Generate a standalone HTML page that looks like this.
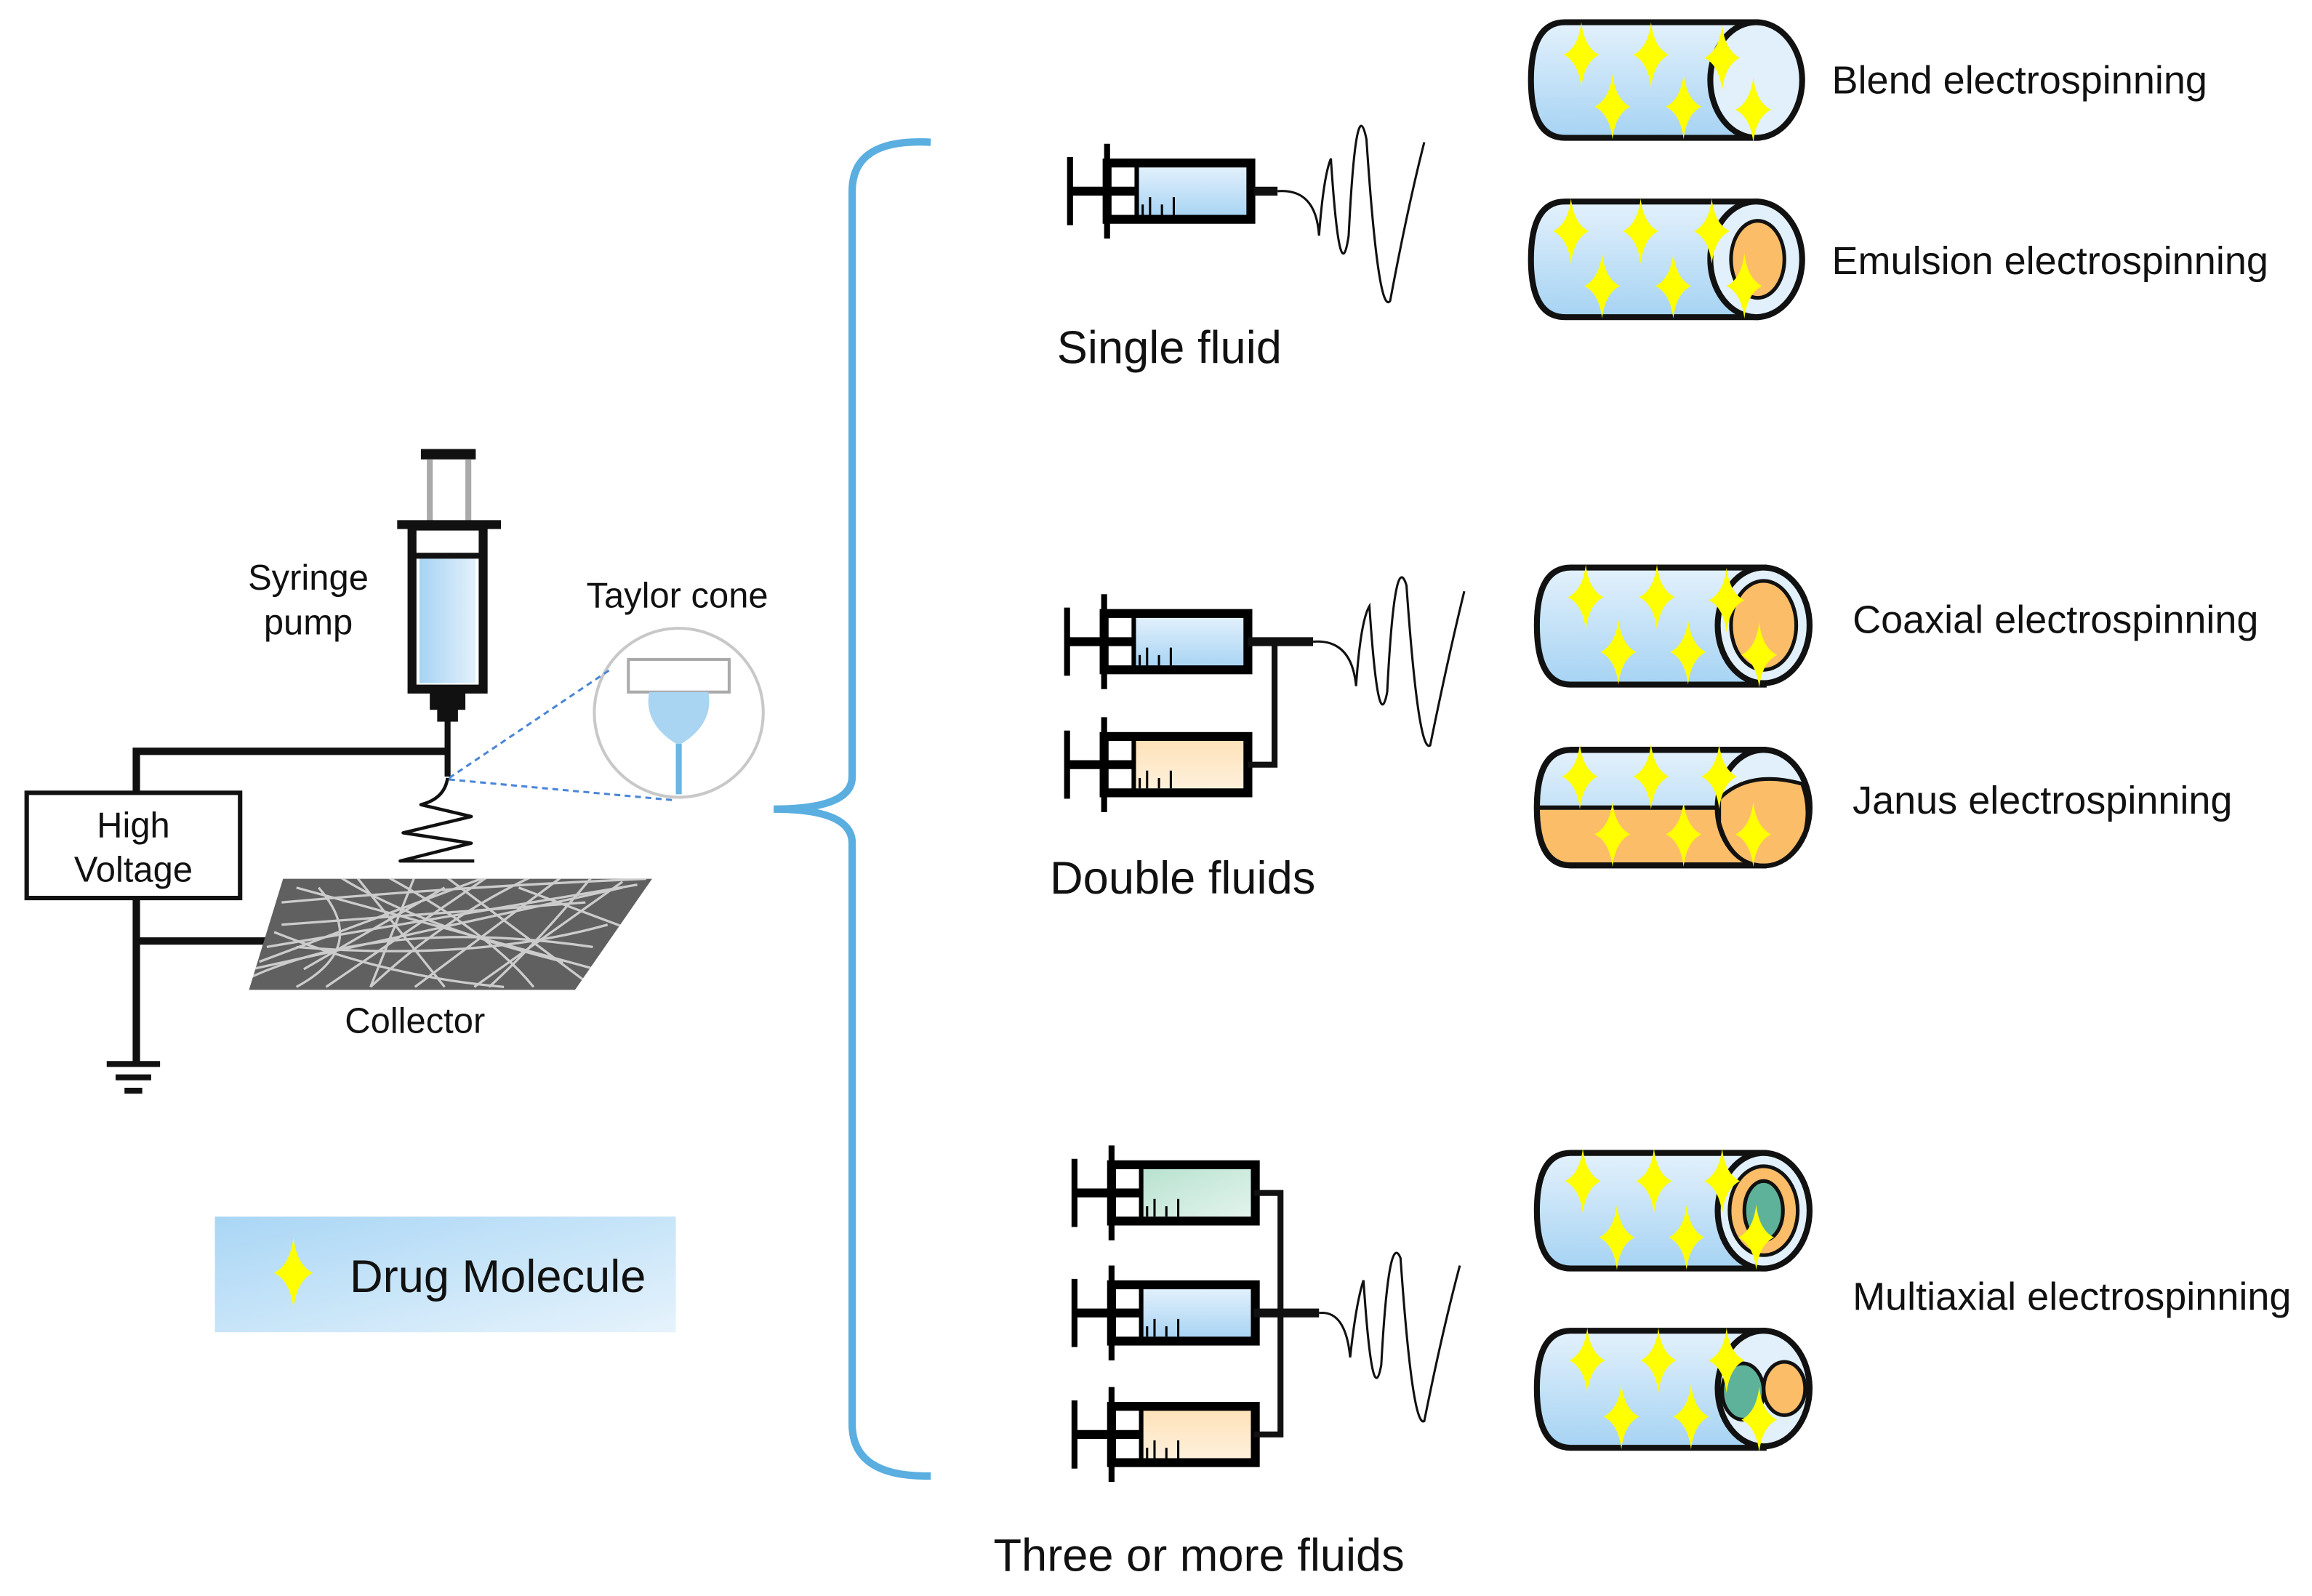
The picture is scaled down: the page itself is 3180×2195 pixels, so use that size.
<!DOCTYPE html>
<html><head><meta charset="utf-8"><style>html,body{margin:0;padding:0;background:#fff}svg{display:block}text{font-family:"Liberation Sans",Arial,sans-serif;fill:#111}</style></head><body>
<svg width="3180" height="2195" viewBox="0 0 1560 1077" preserveAspectRatio="none" xmlns="http://www.w3.org/2000/svg">
<defs>
<linearGradient id="bl" x1="0" y1="0" x2="0" y2="1"><stop offset="0" stop-color="#e3f1fc"/><stop offset="1" stop-color="#a6d3f3"/></linearGradient>
<linearGradient id="blh" x1="0" y1="0" x2="1" y2="0"><stop offset="0" stop-color="#a6d3f3"/><stop offset="1" stop-color="#e3f1fc"/></linearGradient>
<linearGradient id="or" x1="0" y1="0" x2="0" y2="1"><stop offset="0" stop-color="#fde2b8"/><stop offset="1" stop-color="#fff1de"/></linearGradient>
<linearGradient id="gr" x1="0" y1="0" x2="1" y2="1"><stop offset="0" stop-color="#b8e2d0"/><stop offset="1" stop-color="#e3f4ec"/></linearGradient>
<linearGradient id="dm" x1="0" y1="0" x2="1" y2="1"><stop offset="0" stop-color="#a9d6f5"/><stop offset="1" stop-color="#e6f3fc"/></linearGradient>
<clipPath id="cc"><polygon points="191,594 440,594 388,669 168,669"/></clipPath>
<symbol id="star" viewBox="-13 -22 26 44" overflow="visible"><path d="M0,-22 Q2,-5 12,0 Q2,5 0,22 Q-2,5 -12,0 Q-2,-5 0,-22Z" fill="#ffff00"/></symbol>
<g id="syr">
<line x1="-25" y1="-23" x2="-25" y2="23" stroke="#000" stroke-width="4"/>
<line x1="-25" y1="0" x2="20" y2="0" stroke="#000" stroke-width="6"/>
<line x1="0" y1="-32" x2="0" y2="32" stroke="#000" stroke-width="4"/>
<rect x="0" y="-19" width="97" height="38" fill="none" stroke="#000" stroke-width="6"/>
<line x1="20" y1="-19" x2="20" y2="19" stroke="#000" stroke-width="3"/>
<g stroke="#000" stroke-width="1.5"><line x1="24" y1="16" x2="24" y2="9"/><line x1="29" y1="16" x2="29" y2="4"/><line x1="37" y1="16" x2="37" y2="9"/><line x1="45" y1="16" x2="45" y2="4"/></g>
</g>
</defs>
<rect width="1560" height="1077" fill="#fff"/>
<g transform="translate(0,-1)">
<!-- left setup -->
<rect x="284" y="304" width="37" height="7" fill="#111"/>
<line x1="290" y1="311" x2="290" y2="356" stroke="#aaa" stroke-width="4"/>
<line x1="316" y1="311" x2="316" y2="356" stroke="#aaa" stroke-width="4"/>
<rect x="268" y="352" width="70" height="6" fill="#111"/>
<rect x="283" y="376" width="38" height="86" fill="url(#blh)"/>
<line x1="278" y1="376" x2="326" y2="376" stroke="#111" stroke-width="4"/>
<rect x="278" y="356" width="48" height="110" fill="none" stroke="#111" stroke-width="6"/>
<rect x="290" y="466" width="24" height="14" fill="#111"/>
<rect x="295" y="478" width="14" height="10" fill="#111"/>
<line x1="302" y1="486" x2="302" y2="525" stroke="#111" stroke-width="4"/>
<polyline points="92,536 92,508 302,508" fill="none" stroke="#111" stroke-width="5"/>
<path d="M302,526 Q300,540 284,544 L318,552 L272,563 L318,570 L270,582 L320,582" fill="none" stroke="#111" stroke-width="2.2" stroke-linejoin="round"/>
<rect x="18" y="536" width="144" height="71" fill="#fff" stroke="#111" stroke-width="3"/>
<text x="90" y="566" font-size="24" text-anchor="middle">High</text>
<text x="90" y="596" font-size="24" text-anchor="middle">Voltage</text>
<line x1="92" y1="607" x2="92" y2="719" stroke="#111" stroke-width="5"/>
<line x1="92" y1="636" x2="182" y2="636" stroke="#111" stroke-width="5"/>
<line x1="72" y1="719" x2="108" y2="719" stroke="#111" stroke-width="4"/>
<line x1="78" y1="728" x2="102" y2="728" stroke="#111" stroke-width="4"/>
<line x1="84" y1="737" x2="96" y2="737" stroke="#111" stroke-width="4"/>
<polygon points="191,594 440,594 388,669 168,669" fill="#606060"/>
<g stroke="#e0e0e0" stroke-width="1.6" fill="none" opacity=".85" clip-path="url(#cc)">
<path d="M200,600 L420,660"/><path d="M180,640 L430,598"/><path d="M240,592 L300,667"/><path d="M330,592 L220,667"/><path d="M170,660 Q260,620 400,640"/><path d="M260,592 Q330,630 360,667"/><path d="M380,592 L280,667"/><path d="M190,625 L395,610"/><path d="M300,592 L400,667"/><path d="M420,600 L170,655"/><path d="M215,600 Q250,640 200,667"/><path d="M350,600 L430,630"/>
<path d="M190,610 Q300,600 436,594"/><path d="M175,650 L330,592"/><path d="M250,667 Q300,620 360,592"/><path d="M200,640 Q320,650 410,625"/><path d="M280,592 L250,667"/><path d="M320,667 L420,596"/><path d="M185,630 Q260,660 340,667"/><path d="M228,592 Q280,625 380,650"/><path d="M400,592 Q360,640 330,667"/><path d="M205,655 L300,600"/>
</g>
<text x="280" y="698" font-size="24" text-anchor="middle">Collector</text>
<text x="208" y="399" font-size="24" text-anchor="middle">Syringe</text>
<text x="208" y="429" font-size="24" text-anchor="middle">pump</text>
<text x="457" y="411" font-size="24" text-anchor="middle">Taylor cone</text>
<circle cx="458" cy="482" r="57" fill="#fff" stroke="#c8c8c8" stroke-width="2"/>
<rect x="424" y="446" width="68" height="22" fill="#fff" stroke="#aaa" stroke-width="2"/>
<path d="M438,468 L478,468 Q482,490 458,504 Q434,490 438,468Z" fill="#a9d4f2"/>
<line x1="458" y1="503" x2="458" y2="537" stroke="#6ab6e4" stroke-width="4"/>
<line x1="303" y1="526" x2="413" y2="452" stroke="#4a86d8" stroke-width="1.5" stroke-dasharray="4,3"/>
<line x1="303" y1="527" x2="455" y2="541" stroke="#4a86d8" stroke-width="1.5" stroke-dasharray="4,3"/>
<rect x="145" y="822" width="311" height="78" fill="url(#dm)"/>
<use href="#star" x="172" y="836" width="52" height="48"/>
<text x="236" y="873" font-size="31">Drug Molecule</text>

<path d="M628,97 Q575,94 575,130 L575,525 Q575,547 522,547 Q575,547 575,570 L575,962 Q575,998 628,997" fill="none" stroke="#5aaee0" stroke-width="5"/>

<rect x="768" y="113" width="75" height="35" fill="url(#bl)"/>
<use href="#syr" transform="translate(747,130)"/>
<rect x="846" y="127" width="16" height="6" fill="#111"/>
<path d="M862,130 Q888,128 890,160 Q893,120 898,108 Q904,200 910,160 Q915,60 922,95 Q930,215 938,204 Q950,140 961,97" fill="none" stroke="#111" stroke-width="1.5"/>
<text x="789" y="246" font-size="31" text-anchor="middle">Single fluid</text>

<rect x="766" y="417" width="75" height="35" fill="url(#bl)"/>
<use href="#syr" transform="translate(745,434)"/>
<rect x="766" y="500" width="75" height="35" fill="url(#or)"/>
<use href="#syr" transform="translate(745,517)"/>
<polyline points="842,517 860,517 860,434" fill="none" stroke="#111" stroke-width="4"/>
<rect x="842" y="431" width="44" height="6" fill="#111"/>
<path d="M886,434 Q912,432 915,464 Q918,420 924,410 Q930,500 936,468 Q941,370 949,396 Q957,510 965,504 Q977,445 988,400" fill="none" stroke="#111" stroke-width="1.5"/>
<text x="798" y="604" font-size="31" text-anchor="middle">Double fluids</text>

<rect x="770" y="790" width="75" height="33" fill="url(#gr)"/>
<use href="#syr" transform="translate(750,806)"/>
<rect x="770" y="870" width="75" height="35" fill="url(#bl)"/>
<use href="#syr" transform="translate(750,887)"/>
<rect x="770" y="952" width="75" height="35" fill="url(#or)"/>
<use href="#syr" transform="translate(750,969)"/>
<polyline points="846,806 864,806 864,969 846,969" fill="none" stroke="#111" stroke-width="4"/>
<rect x="846" y="884" width="44" height="6" fill="#111"/>
<path d="M890,887 Q908,885 911,917 Q915,880 920,865 Q926,955 932,922 Q937,830 945,850 Q953,965 961,960 Q973,900 985,855" fill="none" stroke="#111" stroke-width="1.5"/>
<text x="809" y="1061" font-size="31" text-anchor="middle">Three or more fluids</text>

<g stroke="#111" stroke-width="4">
<path d="M1056,16 H1185 V94 H1056 Q1033,94 1033,55 Q1033,16 1056,16Z" fill="url(#bl)"/>
<ellipse cx="1185" cy="55" rx="31" ry="39" fill="#e1f0fb"/>
<path d="M1056,137 H1185 V215 H1056 Q1033,215 1033,176 Q1033,137 1056,137Z" fill="url(#bl)"/>
<ellipse cx="1185" cy="176" rx="31" ry="39" fill="#e1f0fb"/>
<ellipse cx="1186" cy="176" rx="18" ry="26" fill="#fbbd68" stroke-width="2.5"/>
<path d="M1060,384 H1190 V463 H1060 Q1037,463 1037,423 Q1037,384 1060,384Z" fill="url(#bl)"/>
<ellipse cx="1190" cy="423" rx="31" ry="39" fill="#e1f0fb"/>
<ellipse cx="1190" cy="423" rx="22" ry="30" fill="#fbbd68" stroke-width="2.5"/>
<path d="M1060,507 H1190 V585 H1060 Q1037,585 1037,546 Q1037,507 1060,507Z" fill="url(#bl)"/>
<path d="M1039,546 H1190 V583 H1060 Q1039,583 1039,546Z" fill="#fbbd68" stroke="none"/>
<line x1="1039" y1="546" x2="1165" y2="546" stroke-width="3"/>
<path d="M1060,507 H1190 V585 H1060 Q1037,585 1037,546 Q1037,507 1060,507Z" fill="none"/>
<ellipse cx="1190" cy="546" rx="31" ry="39" fill="#e1f0fb"/>
<path d="M1160,540 Q1180,520 1216,530 Q1222,546 1218,562 Q1208,585 1190,585 Q1168,585 1160,556Z" fill="#fbbd68" stroke-width="2.5"/>
<path d="M1060,779 H1190 V857 H1060 Q1037,857 1037,818 Q1037,779 1060,779Z" fill="url(#bl)"/>
<ellipse cx="1190" cy="818" rx="31" ry="39" fill="#e1f0fb"/>
<ellipse cx="1190" cy="818" rx="23" ry="30" fill="#fbbd68" stroke-width="2.5"/>
<ellipse cx="1190" cy="818" rx="13" ry="20" fill="#5fb29a" stroke-width="2.5"/>
<path d="M1060,899 H1190 V978 H1060 Q1037,978 1037,938 Q1037,899 1060,899Z" fill="url(#bl)"/>
<ellipse cx="1190" cy="938" rx="31" ry="39" fill="#e1f0fb"/>
<ellipse cx="1176" cy="940" rx="14" ry="19" fill="#5fb29a" stroke-width="2.5"/>
<ellipse cx="1204" cy="938" rx="14" ry="18" fill="#fbbd68" stroke-width="2.5"/>
</g>
<g>
<use href="#star" x="1054" y="16" width="26" height="44"/><use href="#star" x="1101" y="16" width="26" height="44"/><use href="#star" x="1149" y="18" width="26" height="44"/>
<use href="#star" x="1075" y="51" width="26" height="44"/><use href="#star" x="1123" y="51" width="26" height="44"/><use href="#star" x="1170" y="53" width="26" height="44"/>
<use href="#star" x="1047" y="135" width="26" height="44"/><use href="#star" x="1094" y="135" width="26" height="44"/><use href="#star" x="1142" y="135" width="26" height="44"/>
<use href="#star" x="1068" y="172" width="26" height="44"/><use href="#star" x="1116" y="172" width="26" height="44"/><use href="#star" x="1164" y="172" width="26" height="44"/>
<use href="#star" x="1057" y="382" width="26" height="44"/><use href="#star" x="1105" y="382" width="26" height="44"/><use href="#star" x="1152" y="384" width="26" height="44"/>
<use href="#star" x="1079" y="419" width="26" height="44"/><use href="#star" x="1126" y="419" width="26" height="44"/><use href="#star" x="1174" y="421" width="26" height="44"/>
<use href="#star" x="1053" y="503" width="26" height="44"/><use href="#star" x="1101" y="503" width="26" height="44"/><use href="#star" x="1147" y="503" width="26" height="44"/>
<use href="#star" x="1075" y="542" width="26" height="44"/><use href="#star" x="1123" y="542" width="26" height="44"/><use href="#star" x="1170" y="542" width="26" height="44"/>
<use href="#star" x="1055" y="776" width="26" height="44"/><use href="#star" x="1103" y="776" width="26" height="44"/><use href="#star" x="1149" y="776" width="26" height="44"/>
<use href="#star" x="1078" y="814" width="26" height="44"/><use href="#star" x="1125" y="814" width="26" height="44"/><use href="#star" x="1172" y="814" width="26" height="44"/>
<use href="#star" x="1058" y="897" width="26" height="44"/><use href="#star" x="1106" y="897" width="26" height="44"/><use href="#star" x="1152" y="897" width="26" height="44"/>
<use href="#star" x="1081" y="935" width="26" height="44"/><use href="#star" x="1128" y="935" width="26" height="44"/><use href="#star" x="1174" y="937" width="26" height="44"/>
</g>
<text x="1236" y="64" font-size="26.5">Blend electrospinning</text>
<text x="1236" y="186" font-size="26.5">Emulsion electrospinning</text>
<text x="1250" y="428" font-size="26.5">Coaxial electrospinning</text>
<text x="1250" y="550" font-size="26.5">Janus electrospinning</text>
<text x="1250" y="885" font-size="26.5">Multiaxial electrospinning</text>
</g>
</svg>
</body></html>
